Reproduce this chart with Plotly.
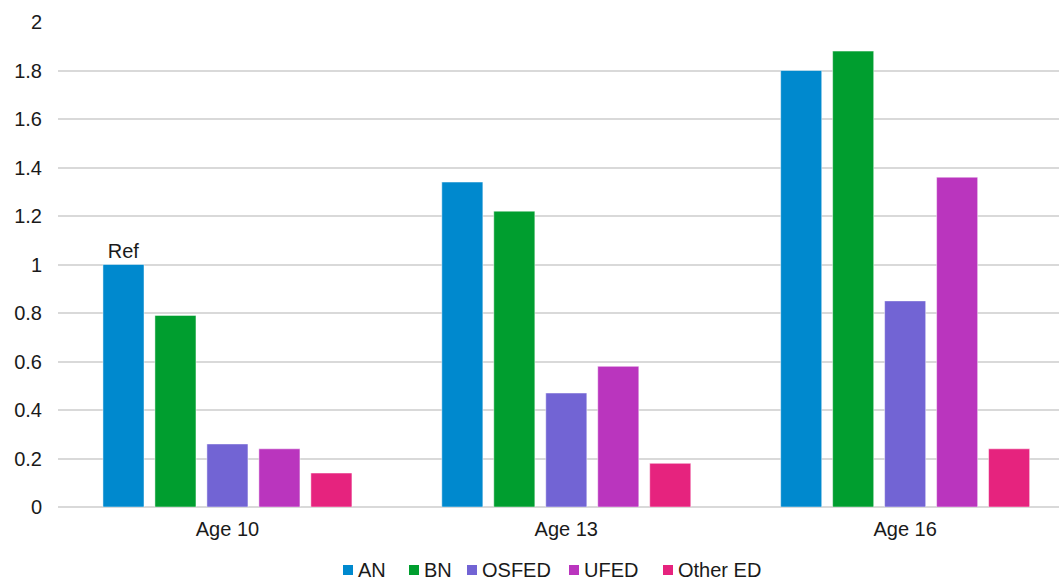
import plotly.graph_objects as go

# Age groups along the x axis
ages = ["Age 10", "Age 13", "Age 16"]

# Relative risk per eating-disorder type (Age 10 AN is the reference)
an = [1.00, 1.34, 1.80]
bn = [0.79, 1.22, 1.88]
osfed = [0.26, 0.47, 0.85]
ufed = [0.24, 0.58, 1.36]
other_ed = [0.14, 0.18, 0.24]

y_ticks = [0, 0.2, 0.4, 0.6, 0.8, 1, 1.2, 1.4, 1.6, 1.8, 2]
y_tick_text = ["0", "0.2", "0.4", "0.6", "0.8", "1", "1.2", "1.4", "1.6", "1.8", "2"]

series = [
    ("AN", an, "#0089CE"),
    ("BN", bn, "#009E2F"),
    ("OSFED", osfed, "#7264D4"),
    ("UFED", ufed, "#BA35BE"),
    ("Other ED", other_ed, "#E6237E"),
]

font_family = "Liberation Sans, Arial, sans-serif"
text_color = "#1a1a1a"
font_size = 20

# Page geometry (pixels) used to place the compact legend below the plot
W, H = 1059, 583
M_L, M_R, M_T, M_B = 58, 0, 22, 76
plot_w = W - M_L - M_R
plot_h = H - M_T - M_B
legend_left_px = [343, 409, 467, 569, 663]   # left edge of each legend swatch
legend_mid_px = 570                            # vertical centre of the legend row
swatch_px = 10


def px_to_paper_x(px):
    return (px - M_L) / plot_w


def px_to_paper_y(py):
    return (H - M_B - py) / plot_h


fig = go.Figure()
for name, values, color in series:
    labels = ["Ref", "", ""] if name == "AN" else None
    fig.add_trace(go.Bar(
        x=ages,
        y=values,
        name=name,
        marker=dict(color=color, line=dict(color="rgba(255,255,255,0.6)", width=0.8)),
        text=labels,
        textposition="outside" if labels else None,
        textfont=dict(family=font_family, size=font_size, color=text_color),
        cliponaxis=False,
        showlegend=False,
    ))

# Legend row: coloured square swatch followed by the series name
for (name, _, color), left in zip(series, legend_left_px):
    fig.add_shape(
        type="rect",
        xref="paper", yref="paper",
        x0=px_to_paper_x(left), x1=px_to_paper_x(left + swatch_px),
        y0=px_to_paper_y(legend_mid_px + swatch_px / 2),
        y1=px_to_paper_y(legend_mid_px - swatch_px / 2),
        fillcolor=color, line=dict(width=0),
    )
    fig.add_annotation(
        xref="paper", yref="paper",
        x=px_to_paper_x(left + swatch_px + 4),
        y=px_to_paper_y(legend_mid_px),
        xanchor="left", yanchor="middle",
        text=name, showarrow=False, borderpad=0,
        font=dict(family=font_family, size=font_size, color=text_color),
    )

fig.update_layout(
    width=W,
    height=H,
    barmode="group",
    bargap=0.233,
    bargroupgap=0.21,
    plot_bgcolor="white",
    paper_bgcolor="white",
    margin=dict(l=M_L, r=M_R, t=M_T, b=M_B, autoexpand=False),
    font=dict(family=font_family, size=font_size, color=text_color),
    showlegend=False,
    xaxis=dict(
        range=[-0.5, 2.454],
        showgrid=False,
        showline=False,
        ticks="",
        ticklabelstandoff=8,
        tickfont=dict(family=font_family, size=font_size, color=text_color),
    ),
    yaxis=dict(
        range=[0, 2],
        tickvals=y_ticks,
        ticktext=y_tick_text,
        showgrid=True,
        gridcolor="#D9D9D9",
        gridwidth=1.5,
        zeroline=True,
        zerolinecolor="#D9D9D9",
        zerolinewidth=1.5,
        showline=False,
        ticks="",
        ticklabelstandoff=15,
        tickfont=dict(family=font_family, size=font_size, color=text_color),
    ),
)

fig.write_html("out.html")
